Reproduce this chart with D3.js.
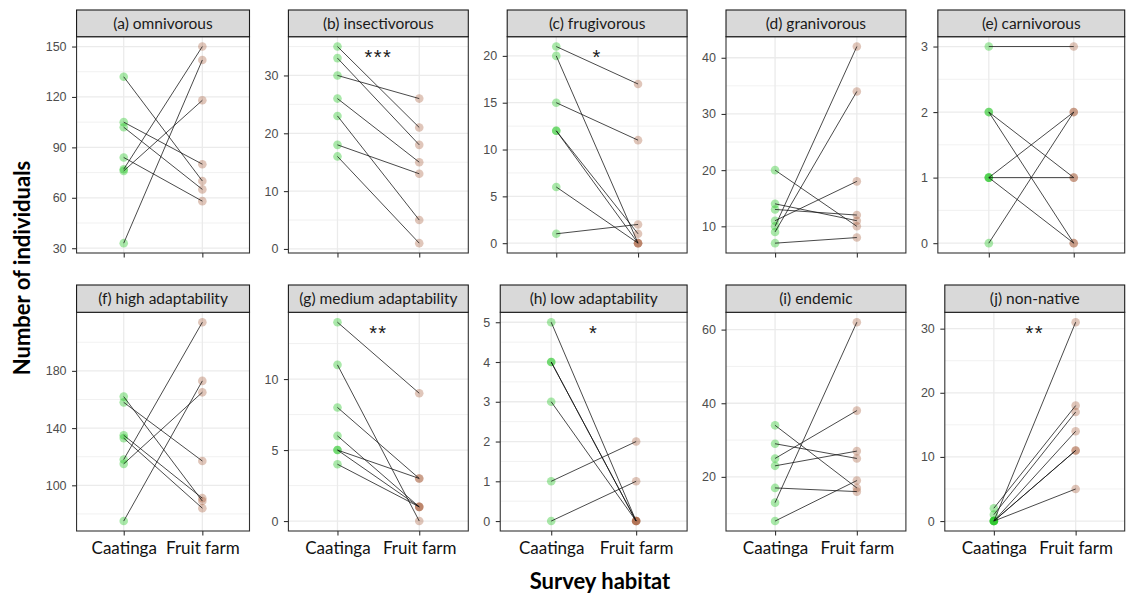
<!DOCTYPE html>
<html>
<head>
<meta charset="utf-8">
<script src="https://cdn.jsdelivr.net/npm/d3@7"></script>
<style>
  body { margin: 0; background: #fff; }
  svg { display: block; }
</style>
</head>
<body>
<svg id="chart" width="1128" height="601"></svg>
<script>
// Survey habitats on the x axis
const habitats = ["Caatinga", "Fruit farm"];

// Facet titles
const panelLabels = [
  "(a) omnivorous", "(b) insectivorous", "(c) frugivorous", "(d) granivorous", "(e) carnivorous",
  "(f) high adaptability", "(g) medium adaptability", "(h) low adaptability", "(i) endemic", "(j) non-native"
];

// Number of individuals per paired site: Caatinga value and its matching fruit-farm value
const omnivorousCaatinga    = [132, 105, 102, 84, 77, 76, 33];
const omnivorousFarm        = [70, 80, 65, 58, 150, 118, 142];
const insectivorousCaatinga = [35, 33, 30, 26, 23, 18, 16];
const insectivorousFarm     = [21, 18, 26, 15, 5, 13, 1];
const frugivorousCaatinga   = [21, 20, 15, 12, 12, 6, 1];
const frugivorousFarm       = [17, 0, 11, 0, 1, 0, 2];
const granivorousCaatinga   = [20, 14, 13, 11, 10, 9, 7];
const granivorousFarm       = [10, 11, 12, 18, 42, 34, 8];
const carnivorousCaatinga   = [3, 2, 2, 1, 1, 1, 0];
const carnivorousFarm       = [3, 1, 0, 2, 1, 0, 2];
const highAdaptCaatinga     = [162, 158, 135, 133, 118, 115, 75];
const highAdaptFarm         = [89, 117, 91, 84, 214, 165, 173];
const mediumAdaptCaatinga   = [14, 11, 8, 6, 5, 5, 4];
const mediumAdaptFarm       = [9, 0, 3, 1, 3, 1, 1];
const lowAdaptCaatinga      = [5, 4, 4, 3, 1, 0];
const lowAdaptFarm          = [0, 0, 0, 0, 2, 1];
const endemicCaatinga       = [34, 29, 25, 23, 17, 13, 8];
const endemicFarm           = [17, 25, 38, 27, 16, 62, 19];
const nonNativeCaatinga     = [0, 2, 1, 0, 0, 0, 0];
const nonNativeFarm         = [31, 18, 17, 14, 11, 11, 5];

// Y tick labels of each facet
const omnivorousTicks    = [30, 60, 90, 120, 150];
const insectivorousTicks = [0, 10, 20, 30];
const frugivorousTicks   = [0, 5, 10, 15, 20];
const granivorousTicks   = [10, 20, 30, 40];
const carnivorousTicks   = [0, 1, 2, 3];
const highAdaptTicks     = [100, 140, 180];
const mediumAdaptTicks   = [0, 5, 10];
const lowAdaptTicks      = [0, 1, 2, 3, 4, 5];
const endemicTicks       = [20, 40, 60];
const nonNativeTicks     = [0, 10, 20, 30];

// Paired-test significance marks
const significance = ["", "***", "*", "", "", "", "**", "*", "", "**"];

const caatingaSets = [omnivorousCaatinga, insectivorousCaatinga, frugivorousCaatinga, granivorousCaatinga,
  carnivorousCaatinga, highAdaptCaatinga, mediumAdaptCaatinga, lowAdaptCaatinga, endemicCaatinga, nonNativeCaatinga];
const farmSets = [omnivorousFarm, insectivorousFarm, frugivorousFarm, granivorousFarm, carnivorousFarm,
  highAdaptFarm, mediumAdaptFarm, lowAdaptFarm, endemicFarm, nonNativeFarm];
const tickSets = [omnivorousTicks, insectivorousTicks, frugivorousTicks, granivorousTicks, carnivorousTicks,
  highAdaptTicks, mediumAdaptTicks, lowAdaptTicks, endemicTicks, nonNativeTicks];

const panels = panelLabels.map((label, i) => ({
  label, caatinga: caatingaSets[i], farm: farmSets[i], ticks: tickSets[i], sig: significance[i]
}));

// ---- layout ----
const cellW = 218.8;
const firstCellLeft = 30.7;
const rows = [
  { stripTop: 10,  stripBottom: 36.7,  panelBottom: 253 },
  { stripTop: 285, stripBottom: 312.3, panelBottom: 531 }
];
const tickFont = "12.5px 'Liberation Sans', Arial, sans-serif";
const labelFont = "Lato, 'Open Sans', sans-serif";
const caatingaColor = "#1FC41F";
const farmColor = "#A0522D";

const svg = d3.select("#chart");

const probe = svg.append("text").style("font", tickFont).attr("x", -1000).attr("y", -1000);
function textWidth(s) { probe.text(s); return probe.node().getComputedTextLength(); }

panels.forEach((p, i) => {
  const col = i % 5, rowIdx = Math.floor(i / 5);
  const row = rows[rowIdx];
  const cellLeft = firstCellLeft + col * cellW;
  const right = cellLeft + cellW;
  const labelW = d3.max(p.ticks, t => textWidth(String(t)));
  const left = cellLeft + 15 + labelW + 10;
  const top = row.stripBottom, bottom = row.panelBottom;

  const all = p.caatinga.concat(p.farm);
  const lo = d3.min(all), hi = d3.max(all);
  const pad = (hi - lo) * 0.05;
  const y = d3.scaleLinear().domain([lo - pad, hi + pad]).range([bottom, top]);
  const x = d3.scalePoint().domain(habitats).range([left, right]).padding(0.6);

  const g = svg.append("g");

  // panel background
  g.append("rect").attr("x", left).attr("y", top).attr("width", right - left).attr("height", bottom - top)
    .attr("fill", "#fff");

  // minor grid (midway between major ticks)
  const step = p.ticks[1] - p.ticks[0];
  const [d0, d1] = y.domain();
  const minors = d3.range(p.ticks[0] - step / 2, p.ticks[p.ticks.length - 1] + step, step)
    .filter(v => v >= d0 && v <= d1);
  g.selectAll(".minor").data(minors).join("line")
    .attr("x1", left).attr("x2", right).attr("y1", d => y(d)).attr("y2", d => y(d))
    .attr("stroke", "#EBEBEB").attr("stroke-width", 0.7);

  // major grid
  g.selectAll(".major").data(p.ticks).join("line")
    .attr("x1", left).attr("x2", right).attr("y1", d => y(d)).attr("y2", d => y(d))
    .attr("stroke", "#EBEBEB").attr("stroke-width", 1.3);
  g.selectAll(".vmajor").data(habitats).join("line")
    .attr("x1", d => x(d)).attr("x2", d => x(d)).attr("y1", top).attr("y2", bottom)
    .attr("stroke", "#EBEBEB").attr("stroke-width", 1.3);

  // points
  g.selectAll(".pc").data(p.caatinga).join("circle")
    .attr("cx", x(habitats[0])).attr("cy", d => y(d)).attr("r", 4.3)
    .attr("fill", caatingaColor).attr("fill-opacity", 0.38);
  g.selectAll(".pf").data(p.farm).join("circle")
    .attr("cx", x(habitats[1])).attr("cy", d => y(d)).attr("r", 4.3)
    .attr("fill", farmColor).attr("fill-opacity", 0.33);

  // paired lines
  g.selectAll(".pair").data(p.caatinga.map((c, k) => [c, p.farm[k]])).join("line")
    .attr("x1", x(habitats[0])).attr("x2", x(habitats[1]))
    .attr("y1", d => y(d[0])).attr("y2", d => y(d[1]))
    .attr("stroke", "#111").attr("stroke-width", 0.9).attr("stroke-opacity", 0.85);

  // significance mark
  if (p.sig) {
    g.append("text")
      .attr("x", (x(habitats[0]) + x(habitats[1])) / 2)
      .attr("y", y(hi) + 17.5)
      .attr("text-anchor", "middle")
      .attr("letter-spacing", "1.4px")
      .style("font", "20px 'Liberation Sans', Arial, sans-serif")
      .attr("fill", "#1a1a1a")
      .text(p.sig);
  }

  // panel border
  g.append("rect").attr("x", left).attr("y", top).attr("width", right - left).attr("height", bottom - top)
    .attr("fill", "none").attr("stroke", "#333").attr("stroke-width", 1.1);

  // strip
  g.append("rect").attr("x", left).attr("y", row.stripTop).attr("width", right - left)
    .attr("height", row.stripBottom - row.stripTop)
    .attr("fill", "#D9D9D9").attr("stroke", "#1a1a1a").attr("stroke-width", 1.1);
  g.append("text")
    .attr("x", (left + right) / 2).attr("y", (row.stripTop + row.stripBottom) / 2)
    .attr("dy", "0.35em").attr("text-anchor", "middle")
    .style("font-family", labelFont).style("font-size", "15.5px").attr("fill", "#1a1a1a")
    .text(p.label);

  // y axis
  g.append("g").attr("transform", `translate(${left},0)`)
    .call(d3.axisLeft(y).tickValues(p.ticks).tickSize(4.5).tickPadding(5.5).tickFormat(d3.format("d")))
    .call(a => {
      a.select(".domain").remove();
      a.selectAll("line").attr("stroke", "#333").attr("stroke-width", 1.1);
      a.selectAll("text").attr("fill", "#4D4D4D").style("font", tickFont);
    });

  // x axis
  g.append("g").attr("transform", `translate(0,${bottom})`)
    .call(d3.axisBottom(x).tickSize(4.5).tickFormat(rowIdx === 1 ? (d => d) : () => ""))
    .call(a => {
      a.select(".domain").remove();
      a.selectAll("line").attr("stroke", "#333").attr("stroke-width", 1.1);
      a.selectAll("text").attr("y", 23).attr("dy", 0).attr("fill", "#111")
        .style("font-family", labelFont).style("font-size", "17px");
    });
});
probe.remove();

// axis titles
svg.append("text")
  .attr("transform", "translate(30,268) rotate(-90)")
  .attr("text-anchor", "middle")
  .style("font-family", labelFont).style("font-size", "22px").style("font-weight", "bold")
  .attr("fill", "#000")
  .text("Number of individuals");
svg.append("text")
  .attr("x", 600).attr("y", 589)
  .attr("text-anchor", "middle")
  .style("font-family", labelFont).style("font-size", "22px").style("font-weight", "bold")
  .attr("fill", "#000")
  .text("Survey habitat");
</script>
</body>
</html>
